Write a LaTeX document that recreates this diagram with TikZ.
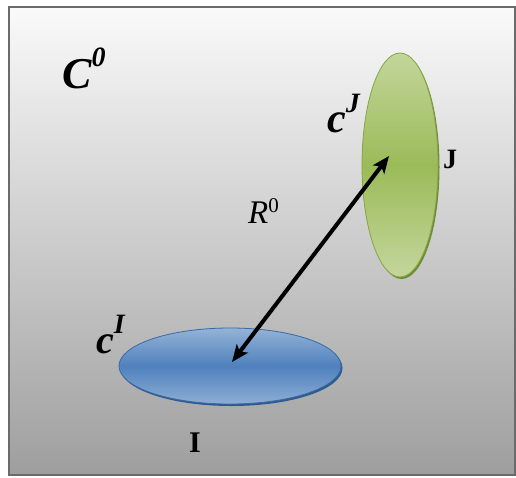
\documentclass[tikz,border=0pt]{standalone}
\usepackage{fontspec}
\setmainfont{Liberation Serif}
\usetikzlibrary{arrows.meta,shapes.geometric}
\definecolor{gfill}{HTML}{9BBB59}
\definecolor{glight}{HTML}{C3D69B}
\definecolor{gedge}{HTML}{86A544}
\definecolor{gshadow}{HTML}{6E8B36}
\definecolor{bfill}{HTML}{4F81BD}
\definecolor{blight}{HTML}{95B3D7}
\definecolor{bedge}{HTML}{3A6AA5}
\definecolor{bshadow}{HTML}{2F5A8E}
\begin{document}
\begin{tikzpicture}[x=1pt,y=-1pt,
  lbl/.style={inner sep=0pt, anchor=base west},
  disc/.style={ellipse, inner sep=0pt, line width=0.8pt},
  dbl/.style={line width=4pt, {Stealth[length=17pt,width=14pt,inset=4pt]}-{Stealth[length=17pt,width=14pt,inset=4pt]}}]
\useasboundingbox (0,0) rectangle (516,477);
% background
\shade[top color=white!98!black, bottom color=white!62!black] (9,7) rectangle (515,475);
\draw[line width=2.5pt, draw=black!58] (9,7) rectangle (515,475);
% green disc J
\fill[gshadow] (401.5,167) ellipse [x radius=38, y radius=112];
\node[disc, draw=gedge, top color=glight, bottom color=glight, middle color=gfill,
      minimum width=76pt, minimum height=224pt] (J) at (400,165) {};
% blue disc I
\fill[bshadow] (231.5,368) ellipse [x radius=111, y radius=38];
\node[disc, draw=bedge, top color=blight, bottom color=blight!90!bfill, middle color=bfill,
      minimum width=222pt, minimum height=76pt] (I) at (230,366) {};
% centres
\coordinate (cI) at (232,362);
\coordinate (cJ) at (389,156);
\draw[dbl] (cI) -- (cJ);
% labels
\node[lbl] (C0) at (62,88) {\fontsize{44}{44}\selectfont\bfseries\itshape C\raisebox{22pt}{\fontsize{28}{28}\selectfont 0}};
\node[lbl] (R0) at (248,223) {\fontsize{33}{33}\selectfont\itshape R\raisebox{11pt}{\upshape\fontsize{21}{21}\selectfont 0}};
\node[lbl] (cJl) at (327,132) {\fontsize{42}{42}\selectfont\bfseries\itshape c\raisebox{20pt}{\fontsize{28}{28}\selectfont J}};
\node[lbl] (cIl) at (96,353) {\fontsize{40}{40}\selectfont\bfseries\itshape c\raisebox{20pt}{\fontsize{28}{28}\selectfont I}};
\node[lbl] (Jl) at (443,168) {\fontsize{28}{28}\selectfont\bfseries J};
\node[lbl] (Il) at (189,452) {\fontsize{30}{30}\selectfont\bfseries I};
\end{tikzpicture}
\end{document}
